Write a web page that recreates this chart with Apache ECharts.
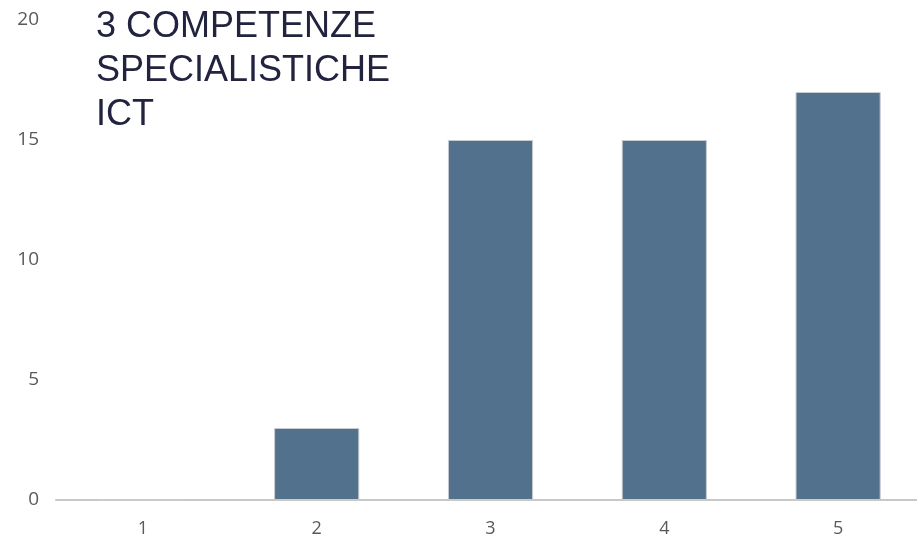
<!DOCTYPE html>
<html><head><meta charset="utf-8">
<script src="https://cdn.jsdelivr.net/npm/echarts@6/dist/echarts.min.js"></script>
<style>html,body{margin:0;padding:0;background:#fff}#c{width:917px;height:544px}</style>
</head><body><div id="c"></div>
<script>
const categories = ['1', '2', '3', '4', '5'];
const values = [0, 3, 15, 15, 17];
const yTicks = [0, 5, 10, 15, 20];
const titleText = '3 COMPETENZE\nSPECIALISTICHE\nICT';

const chart = echarts.init(document.getElementById('c'));
chart.setOption({
  animation: false,
  title: {
    text: titleText, left: 91, top: 0,
    textStyle: { fontFamily: 'Liberation Sans, Arial', fontWeight: 'normal', fontSize: 36, lineHeight: 44, color: '#22243f' }
  },
  grid: { left: 56, width: 869, top: 20, bottom: 44, containLabel: false, outerBoundsMode: 'none' },
  xAxis: {
    type: 'category', data: categories,
    axisLine: { lineStyle: { color: '#c8c8c8', width: 2 } },
    axisTick: { show: false },
    axisLabel: { color: '#595959', fontSize: 18, margin: 20, fontFamily: 'Open Sans, DejaVu Sans' }
  },
  yAxis: {
    type: 'value', min: yTicks[0], max: yTicks[yTicks.length - 1], interval: 5,
    axisLine: { show: false }, axisTick: { show: false },
    splitLine: { show: false },
    axisLabel: { color: '#595959', fontSize: 19, margin: 17, fontFamily: 'Open Sans, DejaVu Sans' }
  },
  series: [{
    type: 'bar', data: values, barWidth: '49%',
    itemStyle: { color: '#52718c', borderColor: '#c8ccd2', borderWidth: 1 }
  }]
});
</script></body></html>
